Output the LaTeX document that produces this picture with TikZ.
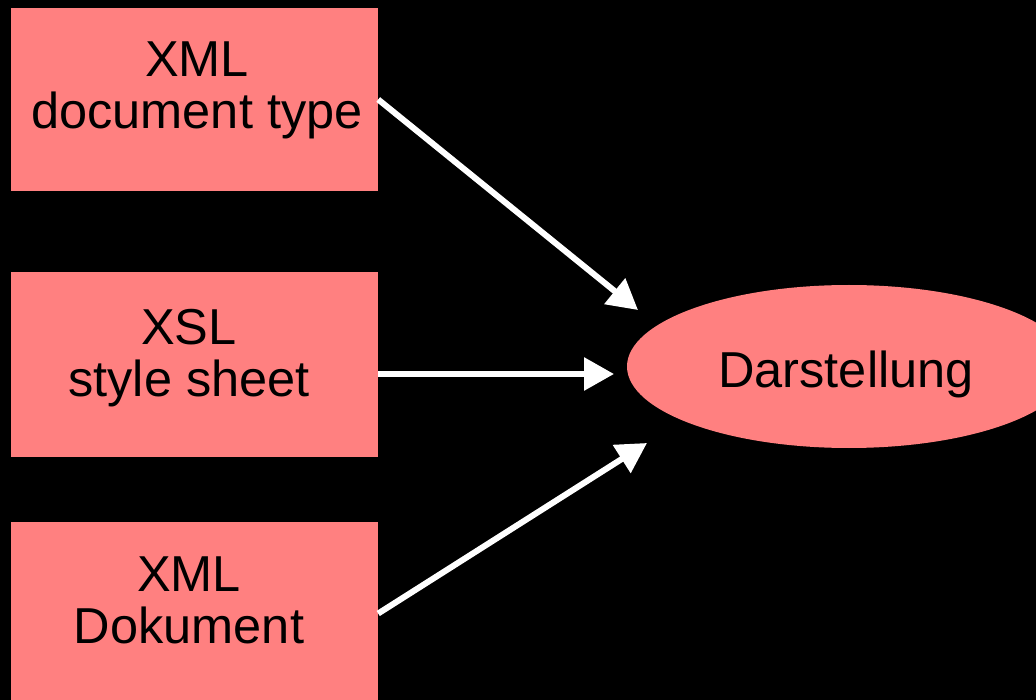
\documentclass[tikz,border=0pt]{standalone}
\usepackage{fontspec}
\setmainfont{Liberation Sans}
\usetikzlibrary{shapes.geometric,arrows.meta}
\definecolor{salmon}{RGB}{255,128,128}
% two-line box label: strut above the first line, strut below the second,
% and a horizontal offset of half the last argument
\newcommand\twoline[5]{\hspace*{#5pt}\rule{0pt}{#3pt}#1\\\hspace*{#5pt}#2\rule[-#4pt]{0pt}{#4pt}}
\begin{document}
\begin{tikzpicture}[x=1pt,y=-1pt,
  every node/.style={font=\fontsize{50.5}{52}\selectfont, text=black},
  srcbox/.style={rectangle, fill=salmon, inner sep=0pt, align=center,
    minimum width=367pt},
  target/.style={ellipse, fill=salmon, inner sep=0pt,
    minimum width=444pt, minimum height=163pt},
  feed/.style={draw=white, line width=6pt, -{Triangle[length=30pt,width=32pt]}}]
  \useasboundingbox (0,0) rectangle (1036,700);
  \fill[black] (0,0) rectangle (1036,700);
  \clip (0,0) rectangle (1036,700);

  \node[srcbox, minimum height=183pt] (doctype) at (194.5,99.5)
    {\twoline{XML}{document type}{40}{33}{5}};
  \node[srcbox, minimum height=185pt] (xsl) at (194.5,364.5)
    {\twoline{XSL}{style sheet}{40}{29}{-11}};
  \node[srcbox, minimum height=183pt] (xmldoc) at (194.5,613.5)
    {\twoline{XML}{Dokument}{40}{33}{-11}};
  \node[target] (view) at (849,366.5) {\hspace*{-6pt}\rule[-12pt]{0pt}{67pt}Darstellung};

  \coordinate (tipA) at (638,310);
  \coordinate (tipB) at (614,374);
  \coordinate (tipC) at (647,443);
  \coordinate (srcB) at (378,374);

  \draw[feed] (doctype.east) -- (tipA);
  \draw[feed] (srcB) -- (tipB);
  \draw[feed] (xmldoc.east) -- (tipC);
\end{tikzpicture}
\end{document}
